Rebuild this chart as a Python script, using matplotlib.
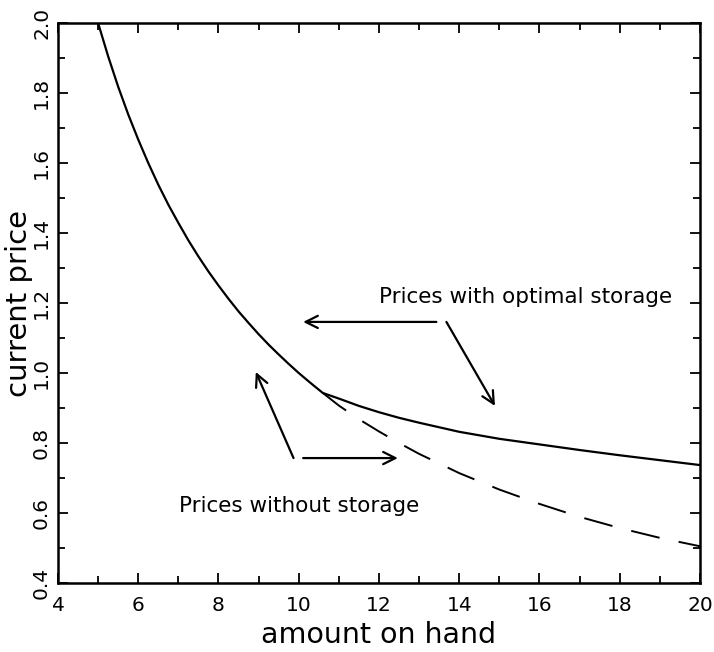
import matplotlib
matplotlib.use('Agg')
import matplotlib.pyplot as plt

# Prices with optimal storage (solid)
storage_x = [5.0, 5.25, 5.5, 5.75, 6.0, 6.25, 6.5, 6.75, 7.0, 7.25, 7.5, 7.75, 8.0, 8.25,
             8.5, 8.75, 9.0, 9.25, 9.5, 9.75, 10.0, 10.3, 10.6,
             11.0, 11.5, 12.0, 12.5, 13.0, 14.0, 15.0, 16.0, 17.0, 18.0, 19.0, 20.0]
storage_y = [2.0, 1.905, 1.818, 1.739, 1.667, 1.6, 1.538, 1.481, 1.429, 1.379, 1.333, 1.29, 1.25, 1.212,
             1.176, 1.143, 1.111, 1.081, 1.053, 1.026, 1.0, 0.971, 0.943,
             0.927, 0.906, 0.888, 0.872, 0.858, 0.832, 0.812, 0.796, 0.78, 0.765, 0.751, 0.737]

# Prices without storage (dashed, where it departs from the solid curve)
no_storage_x = [10.6, 11.0, 11.5, 12.0, 12.5, 13.0, 14.0, 15.0, 16.0, 17.0, 18.0, 19.0, 20.0]
no_storage_y = [0.943, 0.907, 0.868, 0.833, 0.8, 0.769, 0.714, 0.667, 0.626, 0.589, 0.557, 0.529, 0.505]

x_ticks = [4, 6, 8, 10, 12, 14, 16, 18, 20]
y_ticks = [0.4, 0.6, 0.8, 1.0, 1.2, 1.4, 1.6, 1.8, 2.0]


def main():
    fig = plt.figure(figsize=(7.14, 6.52), dpi=100)
    ax = fig.add_axes([0.0812, 0.1058, 0.8992, 0.8589])

    ax.plot(storage_x, storage_y, color='black', lw=1.6)
    ax.plot(no_storage_x, no_storage_y, color='black', lw=1.4, dashes=(15, 10))

    ax.set_xlim(4, 20)
    ax.set_ylim(0.4, 2.0)
    ax.set_xticks(x_ticks)
    ax.set_xticklabels([str(t) for t in x_ticks])
    ax.set_yticks(y_ticks)
    ax.set_yticklabels([f'{t:.1f}' for t in y_ticks])
    ax.set_xticks([5, 7, 9, 11, 13, 15, 17, 19], minor=True)
    ax.set_yticks([0.5, 0.7, 0.9, 1.1, 1.3, 1.5, 1.7, 1.9], minor=True)

    ax.tick_params(which='both', direction='in', top=True, right=True, width=1.3)
    ax.tick_params(which='major', length=7, labelsize=14.5)
    ax.tick_params(which='minor', length=5)
    ax.tick_params(axis='x', pad=9)
    ax.tick_params(axis='y', labelrotation=90, pad=5)
    for lbl in ax.get_yticklabels():
        lbl.set_verticalalignment('center')

    for side in ax.spines.values():
        side.set_linewidth(1.8)

    ax.set_xlabel('amount on hand', fontsize=20.5, labelpad=5)
    ax.set_ylabel('current price', fontsize=21, labelpad=-1)

    # Annotations
    ax.text(12.0, 1.2, 'Prices with optimal storage', fontsize=15.5, va='baseline')
    ax.text(7.02, 0.603, 'Prices without storage', fontsize=15.5, va='baseline')

    arrow = dict(arrowstyle='->', color='black', lw=1.6, mutation_scale=22,
                 shrinkA=0, shrinkB=0)
    ax.annotate('', xy=(10.11, 1.146), xytext=(13.43, 1.146), arrowprops=arrow)
    ax.annotate('', xy=(14.89, 0.906), xytext=(13.68, 1.146), arrowprops=arrow)
    ax.annotate('', xy=(8.93, 1.003), xytext=(9.87, 0.757), arrowprops=arrow)
    ax.annotate('', xy=(12.47, 0.757), xytext=(10.11, 0.757), arrowprops=arrow)

    fig.savefig('out.png', dpi=100)


if __name__ == '__main__':
    main()
